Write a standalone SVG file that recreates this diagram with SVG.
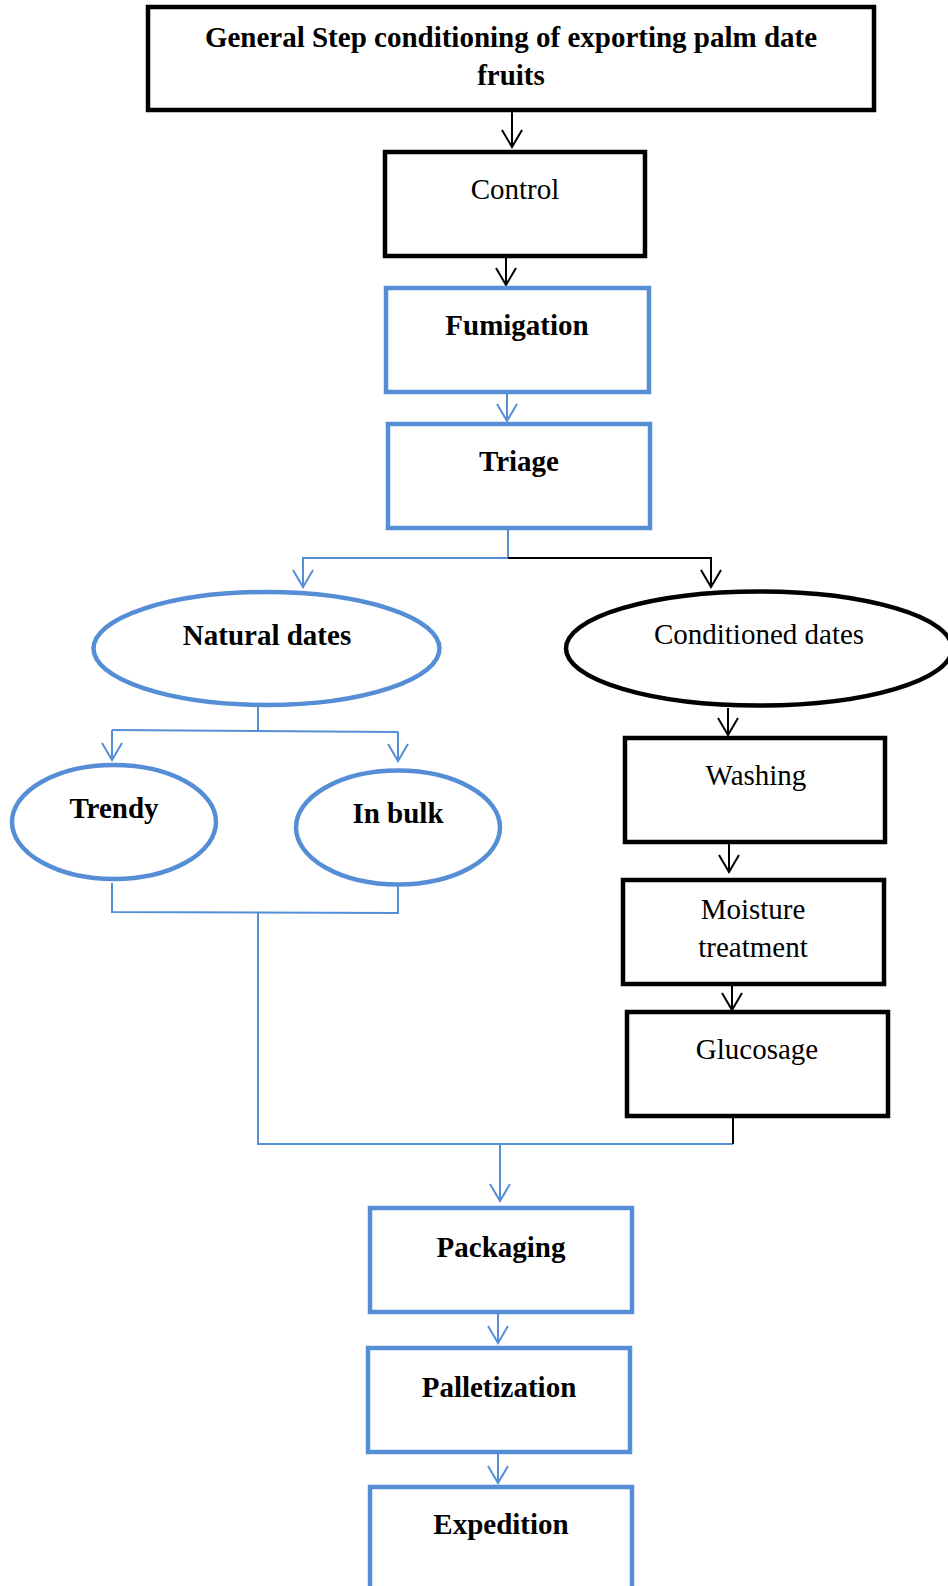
<svg xmlns="http://www.w3.org/2000/svg" width="948" height="1586" viewBox="0 0 948 1586">
<style>
  .t { font-family: "Liberation Serif", "Times New Roman", serif; font-size: 29px; fill: #000; text-anchor: middle; }
  .b { font-weight: bold; }
  .bk { fill: #fff; stroke: #000; stroke-width: 4.5; }
  .bl { fill: #fff; stroke: #558ED5; stroke-width: 4.5; }
  .cb { fill: none; stroke: #558ED5; stroke-width: 2; }
  .ck { fill: none; stroke: #000; stroke-width: 2; }
</style>
<defs>
  <marker id="ab" viewBox="-19 -12 21 24" refX="0" refY="0" markerWidth="21" markerHeight="24" markerUnits="userSpaceOnUse" orient="auto">
    <path d="M-17,-10 L0,0 L-17,10" fill="none" stroke="#558ED5" stroke-width="2"/>
  </marker>
  <marker id="ak" viewBox="-19 -12 21 24" refX="0" refY="0" markerWidth="21" markerHeight="24" markerUnits="userSpaceOnUse" orient="auto">
    <path d="M-17,-10 L0,0 L-17,10" fill="none" stroke="#000" stroke-width="2"/>
  </marker>
</defs>
<rect width="948" height="1586" fill="#fff"/>

<g id="connectors">
  <path class="ck" d="M512,112 V147" marker-end="url(#ak)"/>
  <path class="ck" d="M506,258 V285" marker-end="url(#ak)"/>
  <path class="cb" d="M507,394 V421" marker-end="url(#ab)"/>
  <path class="cb" d="M508,530 V558 H303 V587" marker-end="url(#ab)"/>
  <path class="ck" d="M508,558 H711 V587" marker-end="url(#ak)"/>
  <path class="cb" d="M258,707 V731"/>
  <path class="cb" d="M112,730 L398,732"/>
  <path class="cb" d="M112,730 V760" marker-end="url(#ab)"/>
  <path class="cb" d="M398,732 V761" marker-end="url(#ab)"/>
  <path class="cb" d="M112,883 V912 L398,913 V886"/>
  <path class="cb" d="M258,912 V1144 H733"/>
  <path class="ck" d="M733,1118 V1144"/>
  <path class="cb" d="M500,1144 V1201" marker-end="url(#ab)"/>
  <path class="ck" d="M728,708 V735" marker-end="url(#ak)"/>
  <path class="ck" d="M729,844 V872" marker-end="url(#ak)"/>
  <path class="ck" d="M732,979 V1010" marker-end="url(#ak)"/>
  <path class="cb" d="M498,1314 V1343" marker-end="url(#ab)"/>
  <path class="cb" d="M498,1454 V1483" marker-end="url(#ab)"/>
</g>

<g id="title">
  <rect class="bk" x="148" y="7" width="726" height="103"/>
  <text class="t b" x="511" y="47">General Step conditioning of exporting palm date</text>
  <text class="t b" x="511" y="85">fruits</text>
</g>
<g id="control">
  <rect class="bk" x="385" y="152" width="260" height="104"/>
  <text class="t" x="515" y="199">Control</text>
</g>
<g id="fumigation">
  <rect class="bl" x="386" y="288" width="263" height="104"/>
  <text class="t b" x="517" y="335">Fumigation</text>
</g>
<g id="triage">
  <rect class="bl" x="388" y="424" width="262" height="104"/>
  <text class="t b" x="519" y="471">Triage</text>
</g>
<g id="natural">
  <ellipse class="bl" cx="266.5" cy="648.5" rx="173" ry="56.5" stroke-width="5"/>
  <text class="t b" x="267" y="645">Natural dates</text>
</g>
<g id="conditioned">
  <ellipse class="bk" cx="759" cy="648.5" rx="193" ry="57" stroke-width="5.5"/>
  <text class="t" x="759" y="644">Conditioned dates</text>
</g>
<g id="trendy">
  <ellipse class="bl" cx="114" cy="822" rx="102" ry="57" stroke-width="5"/>
  <text class="t b" x="114" y="818">Trendy</text>
</g>
<g id="inbulk">
  <ellipse class="bl" cx="398" cy="827.5" rx="102" ry="57" stroke-width="5"/>
  <text class="t b" x="398" y="823">In bulk</text>
</g>
<g id="washing">
  <rect class="bk" x="625" y="738" width="260" height="104"/>
  <text class="t" x="756" y="785">Washing</text>
</g>
<g id="moisture">
  <rect class="bk" x="623" y="880" width="261" height="104"/>
  <text class="t" x="753" y="919">Moisture</text>
  <text class="t" x="753" y="957">treatment</text>
</g>
<g id="glucosage">
  <rect class="bk" x="627" y="1012" width="261" height="104"/>
  <text class="t" x="757" y="1059">Glucosage</text>
</g>
<g id="packaging">
  <rect class="bl" x="370" y="1208" width="262" height="104"/>
  <text class="t b" x="501" y="1257">Packaging</text>
</g>
<g id="palletization">
  <rect class="bl" x="368" y="1348" width="262" height="104"/>
  <text class="t b" x="499" y="1397">Palletization</text>
</g>
<g id="expedition">
  <rect class="bl" x="370" y="1487" width="262" height="110"/>
  <text class="t b" x="501" y="1534">Expedition</text>
</g>
</svg>
